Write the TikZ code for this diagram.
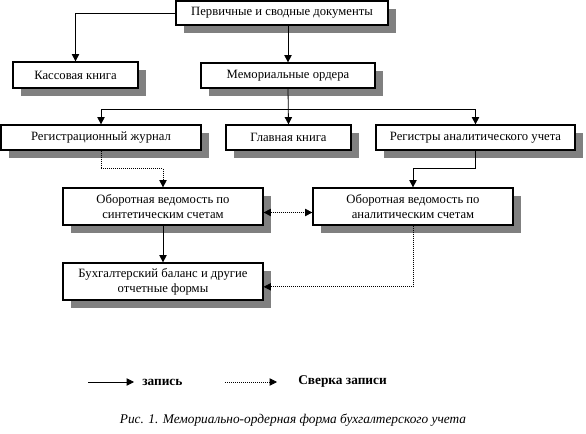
\documentclass[tikz,border=0pt]{standalone}
\usepackage{fontspec}
\setmainfont{Liberation Serif}
\usetikzlibrary{arrows.meta,shadows}
\definecolor{shadowgray}{RGB}{128,128,128}
\begin{document}
\begin{tikzpicture}[x=0.75pt,y=-0.75pt,
  box/.style={draw=black,line width=0.9pt,fill=white,inner sep=0pt,align=center,
    font=\fontsize{9.5}{11.25}\selectfont,
    drop shadow={shadow xshift=6pt,shadow yshift=-6pt,fill=shadowgray,opacity=1}},
  conn/.style={line width=0.6pt,-{Triangle[length=5.5pt,width=5.5pt]}},
  dotconn/.style={line width=0.6pt,dash pattern=on 0.75pt off 0.75pt,-{Triangle[length=5.5pt,width=5.5pt]}},
  legend/.style={font=\fontsize{10}{12}\selectfont\bfseries,anchor=west,inner sep=0pt}]
\useasboundingbox (0,0) rectangle (586,434);
\node[box,minimum width=159pt,minimum height=18pt] (P) at (282,13) {Первичные и сводные документы};
\node[box,minimum width=93.75pt,minimum height=19.5pt] (K) at (75.5,75) {Кассовая книга};
\node[box,minimum width=130.5pt,minimum height=18.75pt] (M) at (288,75.5) {Мемориальные ордера};
\node[box,minimum width=150pt,minimum height=18.75pt] (R) at (101,137.5) {Регистрационный журнал};
\node[box,minimum width=93.75pt,minimum height=18.75pt] (G) at (288.5,137.5) {Главная книга};
\node[box,minimum width=149.25pt,minimum height=18.75pt] (A) at (475.5,137.5) {Регистры аналитического учета};
\node[box,minimum width=150pt,minimum height=27.75pt] (S) at (163,206.5) {Оборотная ведомость по\\синтетическим счетам};
\node[box,minimum width=150pt,minimum height=27.75pt] (N) at (413,206.5) {Оборотная ведомость по\\аналитическим счетам};
\node[box,minimum width=150pt,minimum height=27.75pt] (B) at (163,281.5) {Бухгалтерский баланс и другие\\отчетные формы};
\coordinate (J) at (288,109);
% connectors
\draw[conn] (P.west) -| (K.north);
\draw[conn] (M.north |- P.south) -- (M.north);
\draw[conn] (M.south) -- (G.north);
\draw[conn] (J) -| (R.north);
\draw[conn] (J) -| (A.north);
\draw[dotconn] (R.south) -- ++(0,18) -| (S.north);
\draw[conn] (A.south) -- ++(0,18) -| (N.north);
\draw[dotconn,{Triangle[length=5.5pt,width=5.5pt]}-{Triangle[length=5.5pt,width=5.5pt]}] ([yshift=-4.5pt]S.east) -- ([yshift=-4.5pt]N.west);
\draw[dotconn] (N.south) |- ([yshift=-4pt]B.east);
\draw[conn] (S.south) -- (B.north);
% legend
\coordinate (L1a) at (88,382); \coordinate (L1b) at (134,382);
\coordinate (L2a) at (225,382); \coordinate (L2b) at (277,382);
\draw[conn] (L1a) -- (L1b);
\draw[dotconn] (L2a) -- (L2b);
\node[legend] (T1) at (142,382) {запись};
\node[legend] (T2) at (298,382) {Сверка записи};
\node[font=\fontsize{10}{12}\selectfont\itshape,inner sep=0pt] (C) at (293,420) {Рис. 1. Мемориально-ордерная форма бухгалтерского учета};
\end{tikzpicture}
\end{document}
